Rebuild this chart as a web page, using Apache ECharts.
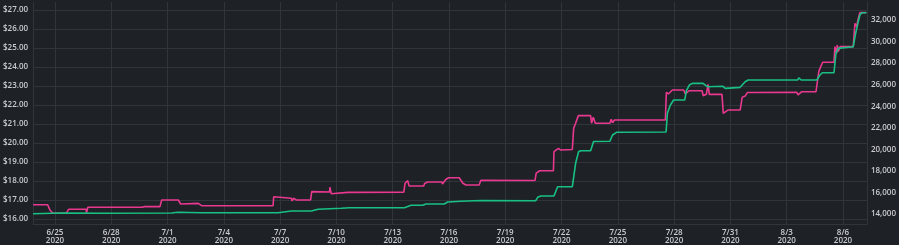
<!DOCTYPE html>
<html>
<head>
<meta charset="utf-8">
<script src="https://cdn.jsdelivr.net/npm/echarts@6/dist/echarts.min.js"></script>
<style>
html,body{margin:0;padding:0;background:#1e2126;}
#c{width:899px;height:245px;}
</style>
</head>
<body>
<div id="c"></div>
<script>
// ---- data ----
const pinkTimes = [
 '2020-06-23 20:00','2020-06-24 14:40','2020-06-24 17:36','2020-06-24 21:27','2020-06-25 14:25','2020-06-25 17:30',
 '2020-06-26 15:56','2020-06-26 16:19','2020-06-26 18:06','2020-06-29 15:00','2020-06-29 16:17','2020-06-29 18:50',
 '2020-06-30 14:20','2020-06-30 16:30','2020-07-01 13:50','2020-07-01 16:46','2020-07-02 15:20','2020-07-02 19:33',
 '2020-07-06 15:00','2020-07-06 15:48','2020-07-06 18:00','2020-07-07 14:24','2020-07-07 15:18','2020-07-07 17:00',
 '2020-07-07 20:50','2020-07-08 15:00','2020-07-08 16:30','2020-07-09 15:15','2020-07-09 15:40','2020-07-09 17:25',
 '2020-07-10 14:45','2020-07-13 14:12','2020-07-13 15:50','2020-07-13 19:15','2020-07-13 21:00','2020-07-14 15:43',
 '2020-07-14 16:45','2020-07-14 20:48','2020-07-15 15:00','2020-07-15 15:40','2020-07-15 20:10','2020-07-15 23:36',
 '2020-07-16 13:06','2020-07-16 17:50','2020-07-16 21:40','2020-07-17 14:36','2020-07-17 16:48','2020-07-20 14:06',
 '2020-07-20 15:36','2020-07-20 20:06','2020-07-21 13:36','2020-07-21 14:20','2020-07-21 20:00','2020-07-21 22:54',
 '2020-07-22 13:48','2020-07-22 15:30','2020-07-22 18:00','2020-07-22 21:30','2020-07-23 13:12','2020-07-23 14:24',
 '2020-07-23 16:36','2020-07-23 19:12','2020-07-24 13:48','2020-07-24 15:36','2020-07-24 17:12','2020-07-24 19:48',
 '2020-07-27 12:48','2020-07-27 14:06','2020-07-27 16:42','2020-07-27 19:12','2020-07-27 21:48','2020-07-28 12:12',
 '2020-07-28 14:24','2020-07-28 19:06','2020-07-29 11:42','2020-07-29 13:18','2020-07-29 17:12','2020-07-29 19:24',
 '2020-07-29 21:00','2020-07-30 13:12','2020-07-30 14:54','2020-07-30 15:30','2020-07-30 17:24','2020-07-30 21:12',
 '2020-07-31 12:30','2020-07-31 15:06','2020-07-31 18:54','2020-07-31 21:48','2020-08-03 12:54','2020-08-03 14:30',
 '2020-08-03 19:18','2020-08-04 13:30','2020-08-04 17:00','2020-08-04 19:30','2020-08-04 22:06','2020-08-05 12:30',
 '2020-08-05 13:42','2020-08-05 15:54','2020-08-05 16:42','2020-08-05 18:00','2020-08-05 20:12','2020-08-06 13:06',
 '2020-08-06 15:18','2020-08-06 17:24','2020-08-06 19:06','2020-08-06 21:36','2020-08-07 00:12','2020-08-07 05:18'
];
const pinkValues = [
 16.75,16.75,16.47,16.30,16.30,16.51,
 16.51,16.32,16.62,16.62,16.58,16.65,
 16.65,17.00,17.00,16.79,16.82,16.70,
 16.70,17.17,17.09,17.09,16.95,17.09,
 17.00,17.00,17.44,17.42,17.67,17.33,
 17.40,17.41,17.88,18.02,17.74,17.74,
 17.87,17.95,17.95,17.84,18.09,18.17,
 18.17,17.88,17.79,17.79,18.04,18.03,
 18.41,18.54,18.54,19.54,19.72,19.63,
 19.66,20.77,21.04,21.44,21.44,21.04,
 21.35,21.04,21.04,21.25,21.07,21.21,
 21.21,22.67,22.58,22.67,22.79,22.79,
 22.58,22.75,22.75,22.49,22.56,23.09,
 22.56,22.56,21.56,21.47,21.65,21.74,
 21.74,22.41,22.47,22.66,22.67,22.53,
 22.70,22.70,23.75,24.02,24.25,24.25,
 25.07,24.72,25.16,24.81,25.07,25.07,
 26.30,26.12,26.47,26.86,26.86,26.86
];
const greenTimes = [
 '2020-06-23 20:00','2020-06-25 09:00','2020-06-27 12:00','2020-07-01 05:18','2020-07-01 13:00','2020-07-02 19:36',
 '2020-07-06 21:24','2020-07-07 14:24','2020-07-08 15:54','2020-07-09 00:30','2020-07-10 06:12','2020-07-10 16:48',
 '2020-07-13 15:00','2020-07-13 23:30','2020-07-14 14:24','2020-07-14 18:36','2020-07-15 18:00','2020-07-15 22:18',
 '2020-07-16 15:18','2020-07-17 16:48','2020-07-20 15:00','2020-07-20 17:30','2020-07-20 21:24','2020-07-21 14:18',
 '2020-07-21 19:00','2020-07-22 13:48','2020-07-22 18:00','2020-07-22 21:48','2020-07-23 00:24','2020-07-23 13:12',
 '2020-07-23 17:00','2020-07-24 13:48','2020-07-24 17:12','2020-07-24 22:18','2020-07-27 13:42','2020-07-27 15:24',
 '2020-07-27 19:12','2020-07-27 23:24','2020-07-28 13:30','2020-07-28 15:42','2020-07-28 19:30','2020-07-28 23:18',
 '2020-07-29 13:00','2020-07-29 18:30','2020-07-30 14:30','2020-07-30 17:24','2020-07-31 12:30','2020-07-31 18:54',
 '2020-07-31 22:42','2020-08-03 14:06','2020-08-03 15:24','2020-08-03 18:24','2020-08-04 14:24','2020-08-04 18:36',
 '2020-08-04 21:36','2020-08-05 12:30','2020-08-05 15:00','2020-08-05 18:00','2020-08-05 20:12','2020-08-06 13:06',
 '2020-08-06 16:12','2020-08-06 19:06','2020-08-06 21:36','2020-08-07 00:12','2020-08-07 06:12'
];
const greenValues = [
 14028,14093,14065,14093,14158,14121,
 14121,14278,14278,14436,14529,14584,
 14584,14807,14807,14928,14928,15113,
 15178,15252,15234,15549,15670,15670,
 16532,16532,18703,19779,19872,19872,
 20725,20744,21328,21579,21606,23341,
 24111,24575,24575,25437,25966,26124,
 26124,25808,25846,25660,25753,26272,
 26430,26430,26643,26430,26430,26894,
 27107,27107,28907,29371,29519,29519,
 30762,31690,32459,32673,32673
];
const xTickDates = ['2020-06-25','2020-06-28','2020-07-01','2020-07-04','2020-07-07','2020-07-10','2020-07-13',
 '2020-07-16','2020-07-19','2020-07-22','2020-07-25','2020-07-28','2020-07-31','2020-08-03','2020-08-06'];
const leftTicks = [16,17,18,19,20,21,22,23,24,25,26,27];
const rightTicks = [14000,16000,18000,20000,22000,24000,26000,28000,30000,32000];
const xStart = '2020-06-23 20:00';
const xEnd = '2020-08-07 06:40';

// ---- build ----
function ts(s){ const p = s.split(/[- :]/).map(Number); return new Date(p[0], p[1]-1, p[2], p[3]||0, p[4]||0).getTime(); }
const pinkData = pinkTimes.map((t,i)=>[ts(t), pinkValues[i]]);
const greenData = greenTimes.map((t,i)=>[ts(t), greenValues[i]]);
const xTicks = xTickDates.map(ts);

const txt = '#c9ccd1';
const gridC = '#30343b';
const font = 'Open Sans';

const chart = echarts.init(document.getElementById('c'), null, {renderer:'canvas'});
chart.setOption({
  backgroundColor: '#1e2126',
  animation: false,
  grid: {left: 31, right: 32, top: 2, bottom: 21, containLabel: false},
  xAxis: {
    type: 'value', min: ts(xStart), max: ts(xEnd), scale: true,
    axisLine: {show: true, onZero: false, lineStyle: {color: gridC}},
    axisTick: {show: false, customValues: xTicks},
    splitLine: {show: true, lineStyle: {color: gridC, width: 1}},
    axisLabel: {
      customValues: xTicks, color: txt, fontSize: 8, fontFamily: font, fontWeight: 600, margin: 5, lineHeight: 8,
      formatter: v => { const d = new Date(v); return (d.getMonth()+1) + '/' + d.getDate() + '\n' + d.getFullYear(); }
    }
  },
  yAxis: [
    {
      type: 'value', position: 'left', min: 15.737, max: 27.42, scale: true,
      axisLine: {show: true, lineStyle: {color: gridC}},
      axisTick: {show: false, customValues: leftTicks},
      splitLine: {show: true, lineStyle: {color: gridC, width: 1}},
      axisLabel: {customValues: leftTicks, color: txt, fontSize: 8, fontFamily: font, fontWeight: 600, margin: 5,
        formatter: v => '$' + v.toFixed(2)}
    },
    {
      type: 'value', position: 'right', min: 13072, max: 33670, scale: true,
      axisLine: {show: true, lineStyle: {color: gridC}},
      axisTick: {show: false, customValues: rightTicks},
      splitLine: {show: false},
      axisLabel: {customValues: rightTicks, color: txt, fontSize: 8, fontFamily: font, fontWeight: 600, margin: 4,
        formatter: v => v.toLocaleString('en-US')}
    }
  ],
  series: [
    {type: 'line', yAxisIndex: 0, data: pinkData, showSymbol: false, symbol: 'none',
     lineStyle: {color: '#e8388f', width: 1.6}, itemStyle: {color: '#e8388f'}, z: 2},
    {type: 'line', yAxisIndex: 1, data: greenData, showSymbol: false, symbol: 'none',
     lineStyle: {color: '#18c183', width: 1.6}, itemStyle: {color: '#18c183'}, z: 3}
  ]
});
</script>
</body>
</html>
